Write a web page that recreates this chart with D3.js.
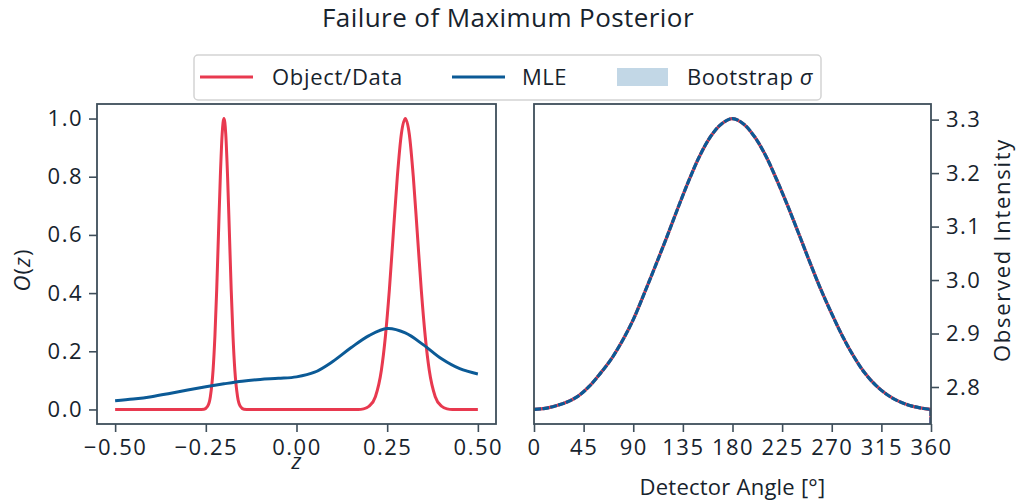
<!DOCTYPE html>
<html><head><meta charset="utf-8">
<script src="https://cdn.jsdelivr.net/npm/d3@7"></script>
<style>
body{margin:0;background:#fff;}
svg{display:block;font-family:"Open Sans","Noto Sans",sans-serif;}
</style></head><body>
<svg id="chart" width="1016" height="504"></svg>
<script>
// ---------- data ----------
const objZ = [-0.5,-0.27,-0.255,-0.245,-0.2375,-0.23,-0.225,-0.22,-0.215,-0.21,-0.205,-0.2,-0.195,-0.19,-0.185,-0.18,-0.175,-0.17,-0.1625,-0.155,-0.145,-0.13,
              0.17,0.185,0.2,0.2175,0.234,0.245,0.256,0.267,0.278,0.289,0.3,0.311,0.322,0.333,0.344,0.355,0.366,0.3825,0.4,0.415,0.43,0.5];
const objO = [0,0,0.001,0.011,0.044,0.135,0.25,0.411,0.607,0.80,0.946,1.0,0.946,0.80,0.607,0.411,0.25,0.135,0.044,0.011,0.001,0,
              0,0.002,0.011,0.044,0.135,0.25,0.411,0.607,0.80,0.946,1.0,0.946,0.80,0.607,0.411,0.25,0.135,0.044,0.011,0.002,0,0];
const mleZ = [-0.5,-0.45,-0.4,-0.35,-0.3,-0.25,-0.2,-0.15,-0.1,-0.05,0,0.05,0.1,0.15,0.2,0.25,0.3,0.35,0.4,0.45,0.5];
const mleO = [0.030,0.036,0.044,0.055,0.067,0.078,0.088,0.097,0.103,0.107,0.112,0.128,0.165,0.212,0.254,0.278,0.263,0.222,0.174,0.140,0.122];
const mleSigma = [0.002,0.002,0.002,0.002,0.002,0.002,0.002,0.002,0.002,0.002,0.002,0.002,0.002,0.002,0.002,0.002,0.002,0.002,0.002,0.002,0.002];

const angles = [0,10,20,30,40,50,60,70,80,90,100,110,120,130,140,150,160,170,180,190,200,210,220,230,240,250,260,270,280,290,300,310,320,330,340,350,360];
const intensityData = [2.758,2.760,2.765,2.772,2.783,2.801,2.825,2.852,2.886,2.926,2.975,3.026,3.078,3.132,3.184,3.231,3.268,3.292,3.302,3.292,3.268,3.233,3.188,3.139,3.087,3.034,2.983,2.937,2.894,2.857,2.826,2.803,2.786,2.774,2.766,2.761,2.758];
const intensityMLE  = [2.758,2.760,2.765,2.772,2.783,2.801,2.825,2.852,2.886,2.926,2.975,3.026,3.078,3.132,3.184,3.231,3.268,3.292,3.302,3.292,3.268,3.233,3.188,3.139,3.087,3.034,2.983,2.937,2.894,2.857,2.826,2.803,2.786,2.774,2.766,2.761,2.758];
const intensitySigma = intensityMLE.map(() => 0.0008);

const leftXTicks = [-0.5,-0.25,0,0.25,0.5];
const leftYTicks = [0,0.2,0.4,0.6,0.8,1.0];
const rightXTicks = [0,45,90,135,180,225,270,315,360];
const rightYTicks = [2.8,2.9,3.0,3.1,3.2,3.3];
const legendLabels = ["Object/Data","MLE","Bootstrap"];

// ---------- style ----------
const RED = "#e8394f", BLUE = "#0b5a96", BAND = "#c2d7e6";
const SPINE = "#3e4e5a", TEXT = "#17232d";
const FS = 22, TICKFS = 22, TICKLS = 1.5;

const svg = d3.select("#chart");

function fit(sel, target){
  const n = sel.node();
  const w = n.getComputedTextLength();
  const chars = n.textContent.length;
  sel.attr("letter-spacing", ((target - w) / chars).toFixed(2));
  return sel;
}

const L = {x0:97, x1:496, y0:104, y1:424};
const R = {x0:534, x1:931, y0:104, y1:424};

function pad(ext){ const d=(ext[1]-ext[0])*0.05; return [ext[0]-d, ext[1]+d]; }

const xL = d3.scaleLinear().domain(pad(d3.extent(objZ))).range([L.x0, L.x1]);
const yL = d3.scaleLinear().domain(pad([0, 1])).range([L.y1, L.y0]);
const xR = d3.scaleLinear().domain([0,360]).range([R.x0, R.x1]);
const yR = d3.scaleLinear().domain(pad(d3.extent(intensityData))).range([R.y1, R.y0]);

const defs = svg.append("defs");
defs.append("clipPath").attr("id","clipL").append("rect").attr("x",L.x0).attr("y",L.y0).attr("width",L.x1-L.x0).attr("height",L.y1-L.y0);
defs.append("clipPath").attr("id","clipR").append("rect").attr("x",R.x0).attr("y",R.y0).attr("width",R.x1-R.x0).attr("height",R.y1-R.y0);

// ---------- left panel ----------
const gL = svg.append("g").attr("clip-path","url(#clipL)");
gL.append("path")
  .datum(mleZ.map((z,i)=>[z, mleO[i]-mleSigma[i], mleO[i]+mleSigma[i]]))
  .attr("fill",BAND)
  .attr("d", d3.area().x(d=>xL(d[0])).y0(d=>yL(d[1])).y1(d=>yL(d[2])).curve(d3.curveCatmullRom.alpha(0.5)));
gL.append("path")
  .datum(objZ.map((z,i)=>[z,objO[i]]))
  .attr("fill","none").attr("stroke",RED).attr("stroke-width",3).attr("stroke-linejoin","round")
  .attr("d", d3.line().x(d=>xL(d[0])).y(d=>yL(d[1])).curve(d3.curveMonotoneX));
gL.append("path")
  .datum(mleZ.map((z,i)=>[z,mleO[i]]))
  .attr("fill","none").attr("stroke",BLUE).attr("stroke-width",3)
  .attr("d", d3.line().x(d=>xL(d[0])).y(d=>yL(d[1])).curve(d3.curveCatmullRom.alpha(0.5)));

// ---------- right panel ----------
const gR = svg.append("g").attr("clip-path","url(#clipR)");
const base = yR.domain()[0] - 1;
gR.append("path")
  .datum(angles.map((a,i)=>[a, intensityMLE[i]-intensitySigma[i], intensityMLE[i]+intensitySigma[i]]))
  .attr("fill",BAND)
  .attr("d", d3.area().x(d=>xR(d[0])).y0(d=>yR(d[1])).y1(d=>yR(d[2])).curve(d3.curveCatmullRom.alpha(0.5)));
const smooth = d3.line().x(d=>xR(d[0])).y(d=>yR(d[1])).curve(d3.curveCatmullRom.alpha(0.5));
function edgePath(vals){
  const pts = angles.map((a,i)=>[a, vals[i]]);
  const last = pts[pts.length-1];
  return smooth(pts) + `L${xR(last[0])},${yR(base)}`;
}
gR.append("path")
  .attr("fill","none").attr("stroke",RED).attr("stroke-width",3.2)
  .attr("d", edgePath(intensityData));
gR.append("path")
  .attr("fill","none").attr("stroke",BLUE).attr("stroke-width",3.2)
  .attr("stroke-dasharray","7,1.2")
  .attr("d", edgePath(intensityMLE));

// ---------- axes ----------
function styleAxis(g){
  g.select(".domain").remove();
  g.selectAll(".tick line").attr("stroke",SPINE).attr("stroke-width",1.6);
  g.selectAll(".tick text").attr("fill",TEXT).style("font-size",TICKFS+"px")
    .style("font-family",'"Open Sans","Noto Sans",sans-serif').attr("letter-spacing",TICKLS);
}
svg.append("g").attr("transform",`translate(0,${L.y1})`)
  .call(d3.axisBottom(xL).tickValues(leftXTicks).tickFormat(d3.format(".2f")).tickSize(8).tickPadding(7)).call(styleAxis);
svg.append("g").attr("transform",`translate(${L.x0},0)`)
  .call(d3.axisLeft(yL).tickValues(leftYTicks).tickFormat(d3.format(".1f")).tickSize(8).tickPadding(6)).call(styleAxis);
svg.append("g").attr("transform",`translate(0,${R.y1})`)
  .call(d3.axisBottom(xR).tickValues(rightXTicks).tickFormat(d3.format("d")).tickSize(8).tickPadding(7)).call(styleAxis);
svg.append("g").attr("transform",`translate(${R.x1},0)`)
  .call(d3.axisRight(yR).tickValues(rightYTicks).tickFormat(d3.format(".1f")).tickSize(8).tickPadding(7)).call(styleAxis);

[L,R].forEach(p=>{
  svg.append("rect").attr("x",p.x0).attr("y",p.y0).attr("width",p.x1-p.x0).attr("height",p.y1-p.y0)
    .attr("fill","none").attr("stroke",SPINE).attr("stroke-width",1.8);
});

// ---------- labels ----------
fit(svg.append("text").attr("x",508).attr("y",27).attr("text-anchor","middle")
  .attr("fill",TEXT).style("font-size","26px").text("Failure of Maximum Posterior"), 372);

const ylab = svg.append("text").attr("transform","translate(30,270) rotate(-90)").attr("text-anchor","middle")
  .attr("fill",TEXT).style("font-size",FS+"px");
ylab.append("tspan").attr("font-style","italic").text("O");
ylab.append("tspan").text("(");
ylab.append("tspan").attr("font-style","italic").text("z");
ylab.append("tspan").text(")");
fit(ylab, 43);

svg.append("text").attr("x",xL(0)).attr("y",469).attr("text-anchor","middle")
  .attr("fill",TEXT).attr("font-style","italic").style("font-size",FS+"px").text("z");

fit(svg.append("text").attr("x",(R.x0+R.x1)/2).attr("y",495).attr("text-anchor","middle")
  .attr("fill",TEXT).style("font-size",FS+"px").text("Detector Angle [°]"), 186);

fit(svg.append("text").attr("transform","translate(1010,250) rotate(-90)").attr("text-anchor","middle")
  .attr("fill",TEXT).style("font-size",FS+"px").text("Observed Intensity"), 224);

// ---------- legend ----------
const lg = svg.append("g");
lg.append("rect").attr("x",194).attr("y",55).attr("width",627).attr("height",45).attr("rx",4)
  .attr("fill","#fff").attr("fill-opacity",0.85).attr("stroke","#d3d3d3").attr("stroke-width",1.5);
const ly = 77, lb = 85;
lg.append("line").attr("x1",200).attr("x2",253).attr("y1",ly).attr("y2",ly).attr("stroke",RED).attr("stroke-width",3);
fit(lg.append("text").attr("x",272).attr("y",lb).attr("fill",TEXT).style("font-size",FS+"px").text(legendLabels[0]), 131);
lg.append("line").attr("x1",452).attr("x2",505).attr("y1",ly).attr("y2",ly).attr("stroke",BLUE).attr("stroke-width",3);
fit(lg.append("text").attr("x",522).attr("y",lb).attr("fill",TEXT).style("font-size",FS+"px").text(legendLabels[1]), 45);
lg.append("rect").attr("x",617).attr("y",ly-9).attr("width",51).attr("height",18).attr("fill",BAND);
const bt = lg.append("text").attr("x",687).attr("y",lb).attr("fill",TEXT).style("font-size",FS+"px");
bt.append("tspan").text(legendLabels[2] + " ");
bt.append("tspan").attr("font-style","italic").text("σ");
fit(bt, 126);
</script>
</body></html>
